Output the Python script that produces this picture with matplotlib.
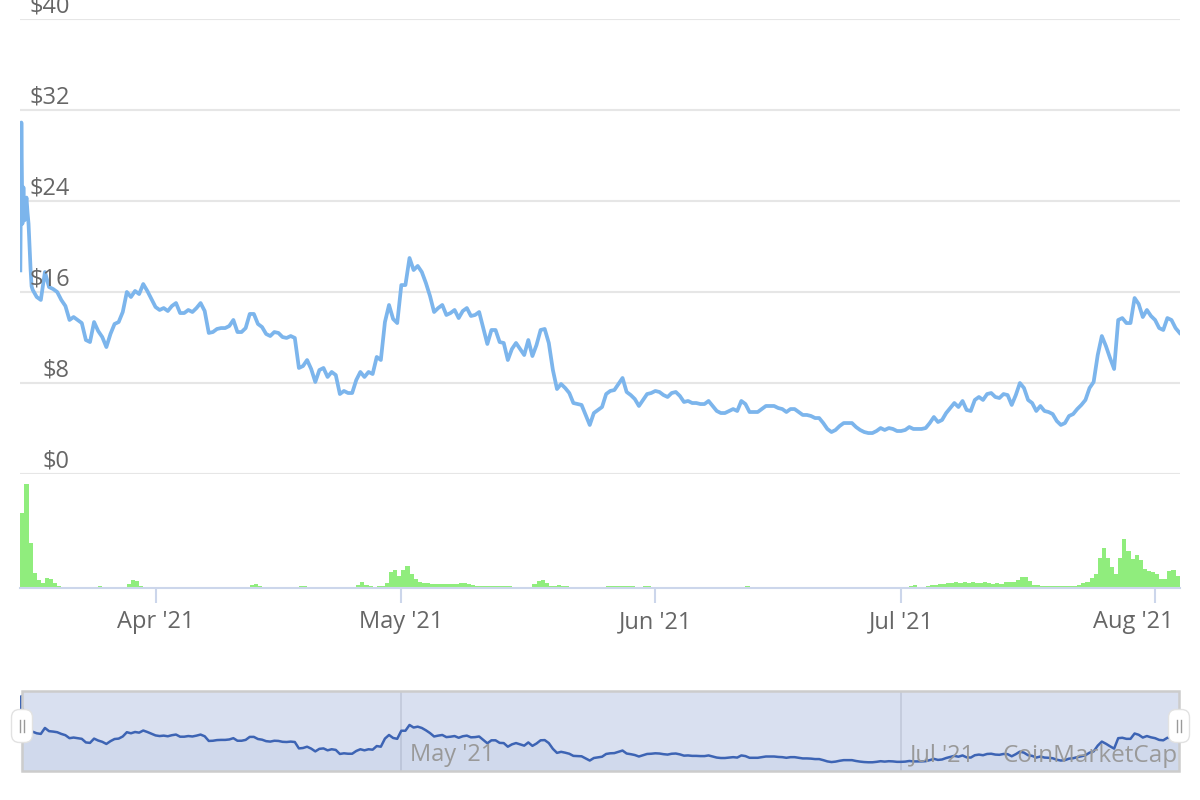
import matplotlib
matplotlib.use("Agg")
import matplotlib.pyplot as plt
import matplotlib.dates as mdates
from matplotlib.patches import FancyBboxPatch, Rectangle
from matplotlib.lines import Line2D
from matplotlib.transforms import IdentityTransform, ScaledTranslation
import pandas as pd

plt.rcParams["font.family"] = ["Open Sans", "DejaVu Sans"]

# first day and a half after listing, every 3 hours
launch_start = "2021-03-15 12:00"
launch_prices = [17.9, 30.9, 22.0, 25.2, 22.3, 23.5, 24.3, 23.0, 22.0, 20.0, 18.0, 16.5, 16.2]

# price every 12 hours from Mar 17 12:00
price_start = "2021-03-17 12:00"
prices = [
    15.56, 15.30, 17.76, 16.44, 16.26, 16.00, 15.30, 14.77, 13.54, 13.80,
    13.54, 13.27, 11.78, 11.60, 13.36, 12.57, 12.04, 11.16, 12.31, 13.19,
    13.36, 14.24, 16.00, 15.56, 16.09, 15.82, 16.70, 16.09, 15.38, 14.68,
    14.42, 14.59, 14.33, 14.77, 15.03, 14.15, 14.15, 14.42, 14.24, 14.59,
    15.03, 14.33, 12.40, 12.48, 12.75, 12.83, 12.83, 13.01, 13.54, 12.48,
    12.48, 12.83, 14.07, 14.07, 13.19, 12.92, 12.31, 12.13, 12.48, 12.40,
    12.04, 11.96, 12.13, 11.96, 9.32, 9.49, 10.02, 9.23, 8.09, 9.14,
    9.32, 8.53, 8.97, 8.70, 7.03, 7.30, 7.12, 7.12, 8.26, 8.97,
    8.53, 8.97, 8.79, 10.29, 10.02, 13.36, 14.86, 13.63, 13.27, 16.61,
    16.61, 18.99, 17.93, 18.29, 17.76, 16.79, 15.65, 14.24, 14.59, 14.86,
    13.98, 14.15, 14.42, 13.71, 14.33, 14.59, 13.89, 13.98, 14.24, 12.83,
    11.43, 12.66, 12.66, 11.60, 11.52, 10.02, 10.99, 11.52, 10.99, 10.46,
    11.78, 10.37, 11.34, 12.66, 12.75, 11.52, 9.14, 7.47, 7.91, 7.56,
    7.12, 6.24, 6.15, 6.07, 5.19, 4.31, 5.36, 5.63, 5.89, 7.03,
    7.30, 7.38, 7.91, 8.44, 7.21, 6.94, 6.59, 5.98, 6.51, 7.03,
    7.12, 7.30, 7.21, 6.94, 6.77, 7.12, 7.21, 6.86, 6.33, 6.42,
    6.24, 6.24, 6.15, 6.15, 6.42, 5.98, 5.54, 5.36, 5.36, 5.54,
    5.71, 5.54, 6.42, 6.15, 5.45, 5.45, 5.45, 5.71, 5.98, 5.98,
    5.98, 5.80, 5.71, 5.45, 5.71, 5.71, 5.45, 5.19, 5.19, 5.10,
    4.92, 4.92, 4.48, 3.96, 3.69, 3.87, 4.22, 4.48, 4.48, 4.48,
    4.13, 3.87, 3.69, 3.60, 3.60, 3.78, 4.04, 3.87, 4.04, 3.96,
    3.78, 3.78, 3.87, 4.13, 3.96, 3.96, 3.96, 4.04, 4.48, 5.01,
    4.57, 4.75, 5.36, 5.80, 6.24, 5.89, 6.42, 5.63, 5.54, 6.51,
    6.77, 6.51, 7.03, 7.12, 6.77, 6.68, 7.03, 6.94, 6.07, 6.94,
    8.00, 7.56, 6.51, 6.24, 5.54, 5.98, 5.54, 5.45, 5.27, 4.66,
    4.31, 4.48, 5.10, 5.27, 5.71, 6.07, 6.51, 7.56, 8.09, 10.46,
    12.13, 11.25, 10.20, 9.23, 13.54, 13.71, 13.27, 13.27, 15.47, 14.94,
    13.80, 14.42, 13.89, 13.54, 12.83, 12.66, 13.71, 13.54, 12.83, 12.40,
]

# 12-hour volume (millions USD) from Mar 15 12:00
volume_start = "2021-03-15 12:00"
volumes = [
    75, 104, 45, 15, 8, 5, 10, 9, 5, 2,
    0.3, 0.3, 0.3, 0.3, 0.3, 0.3, 0.3, 0.3, 1, 2,
    1, 0.3, 0.3, 0.3, 0.3, 0.3, 4, 8, 7, 2,
    0.3, 0.3, 0.3, 0.3, 0.3, 0.3, 0.3, 0.3, 0.3, 0.3,
    0.3, 0.3, 0.3, 0.3, 0.3, 0.3, 0.3, 0.3, 0.3, 0.3,
    0.3, 0.3, 0.3, 0.3, 0.3, 0.3, 3, 4, 2, 0.3,
    0.3, 0.3, 0.3, 0.3, 0.3, 0.3, 0.3, 0.3, 2, 2,
    0.3, 0.3, 0.3, 0.3, 0.3, 0.3, 0.3, 0.3, 0.3, 0.3,
    0.3, 0.3, 3, 6, 3, 2, 1, 2, 2, 5,
    16, 18, 12, 18, 22, 14, 9, 6, 5, 5,
    4, 4, 4, 4, 4, 4, 4, 5, 5, 4,
    3, 2, 2, 2, 2, 2, 2, 2, 2, 2,
    0.3, 0.3, 0.3, 0.3, 0.3, 4, 7, 8, 5, 2,
    2, 3, 2, 2, 0.3, 0.3, 0.3, 0.3, 0.3, 0.3,
    0.3, 0.3, 0.3, 2, 2, 2, 2, 2, 2, 2,
    0.3, 0.3, 2, 2, 0.3, 0.3, 0.3, 0.3, 0.3, 0.3,
    0.3, 0.3, 0.3, 0.3, 0.3, 0.3, 0.3, 0.3, 0.3, 0.3,
    0.3, 0.3, 0.3, 0.3, 0.3, 0.3, 0.3, 2, 0.3, 0.3,
    0.3, 0.3, 0.3, 0.3, 0.3, 0.3, 0.3, 0.3, 0.3, 0.3,
    0.3, 0.3, 0.3, 0.3, 0.3, 0.3, 0.3, 0.3, 0.3, 0.3,
    0.3, 0.3, 0.3, 0.3, 0.3, 0.3, 0.3, 0.3, 0.3, 0.3,
    0.3, 0.3, 0.3, 0.3, 0.3, 0.3, 0.3, 2, 3, 0.3,
    1, 2, 3, 3, 4, 4, 5, 5, 6, 5,
    6, 5, 6, 5, 5, 6, 5, 4, 5, 4,
    6, 6, 6, 8, 11, 11, 7, 3, 3, 2,
    2, 2, 2, 2, 2, 2, 2, 2, 3, 5,
    6, 10, 14, 30, 40, 30, 21, 14, 30, 49,
    37, 29, 33, 28, 19, 17, 16, 14, 9, 9,
    17, 18, 12,
]

price_ticks = [0, 8, 16, 24, 32, 40]
nav_ticks = ["2021-05-01", "2021-07-01"]
nav_labels = ["May '21", "Jul '21"]

launch_times = pd.date_range(launch_start, periods=len(launch_prices), freq="3h")
price_times = pd.date_range(price_start, periods=len(prices), freq="12h")
times = launch_times.append(price_times)
all_prices = launch_prices + prices
vol_times = pd.date_range(volume_start, periods=len(volumes), freq="12h")

W, H = 1200, 800


def box(l, t, r, b):
    return [l / W, 1 - b / H, (r - l) / W, (b - t) / H]


fig = plt.figure(figsize=(12, 8), dpi=100)
xlim = (pd.Timestamp("2021-03-15 11:00"), pd.Timestamp("2021-08-04 01:00"))

# price panel
ax = fig.add_axes(box(20, 19, 1180, 474))
ax.set_xlim(xlim)
ax.set_ylim(0, 40)
for v in price_ticks:
    ax.axhline(v, color="#e6e6e6", lw=1.5, zorder=1)
    ax.annotate("$%d" % v, xy=(0.043, v), xycoords=("axes fraction", "data"),
                xytext=(0, 5), textcoords="offset points", ha="right", va="baseline",
                fontsize=17, color="#666666", zorder=5, annotation_clip=False)
ax.plot(times, all_prices, color="#7cb5ec", lw=2.7, solid_joinstyle="round", zorder=3)
ax.axis("off")

# volume panel
axv = fig.add_axes(box(20, 474, 1180, 588))
axv.bar(vol_times, volumes, width=0.5, align="edge", color="#90ed7d", lw=0, zorder=1)
axv.set_xlim(xlim)
axv.set_ylim(0, 114)
for s in ["top", "left", "right"]:
    axv.spines[s].set_visible(False)
axv.spines["bottom"].set_color("#ccd6eb")
axv.spines["bottom"].set_linewidth(1.5)
axv.spines["bottom"].set_zorder(3)
axv.set_yticks([])
axv.xaxis.set_major_locator(mdates.MonthLocator())
axv.xaxis.set_major_formatter(mdates.DateFormatter("%b '%y"))
axv.tick_params(axis="x", length=11, width=1.5, color="#ccd6eb", labelsize=17,
                labelcolor="#666666", pad=5)
axv.patch.set_alpha(0)
fig.canvas.draw()
# last label is pulled inside the plot edge
last = axv.get_xticklabels()[-1]
last.set_transform(last.get_transform() + ScaledTranslation(-22 / 100, 0, fig.dpi_scale_trans))

# navigator
fig.add_artist(Rectangle((22 / W, 1 - 771 / H), 1157 / W, 80 / H, transform=fig.transFigure,
                         facecolor="#d9e0f0", edgecolor="none", zorder=0.5))
axn = fig.add_axes(box(20, 691, 1180, 771))
axn.set_zorder(1)
axn.patch.set_alpha(0)
axn.set_xlim(xlim)
axn.set_ylim(0, 33)
axn.fill_between(times, all_prices, 0, color="#335cad", alpha=0.05, lw=0)
axn.plot(times, all_prices, color="#3d64b4", lw=1.8)
for d, lab in zip(nav_ticks, nav_labels):
    axn.axvline(pd.Timestamp(d), color="#c3cadb", lw=1.3, zorder=0)
    axn.annotate(lab, xy=(pd.Timestamp(d), 0), xycoords=("data", "axes fraction"),
                 xytext=(6, 7), textcoords="offset points", ha="left", va="baseline",
                 fontsize=17, color="#999999")
axn.axis("off")
fig.add_artist(Rectangle((22 / W, 1 - 771 / H), 1157 / W, 80 / H, transform=fig.transFigure,
                         facecolor="none", edgecolor="#cccccc", lw=1.8, zorder=2))

fig.text(1178 / W, 1 - 762 / H, "CoinMarketCap", ha="right", va="baseline",
         fontsize=17.5, color="#9a9a9a", zorder=3)

# navigator handles
ident = IdentityTransform()
for cx in [22, 1179]:
    cy = H - 726
    fig.add_artist(FancyBboxPatch((cx - 10.5, cy - 16.5), 21, 33,
                                  boxstyle="round,pad=0,rounding_size=8",
                                  facecolor="white", edgecolor="#e2e2e2", lw=1,
                                  transform=ident, zorder=4))
    for dx in [-2, 2]:
        fig.add_artist(Line2D([cx + dx, cx + dx], [cy - 6, cy + 6], color="#9a9a9a",
                              lw=1, transform=ident, zorder=5))

fig.savefig("out.png", dpi=100)
